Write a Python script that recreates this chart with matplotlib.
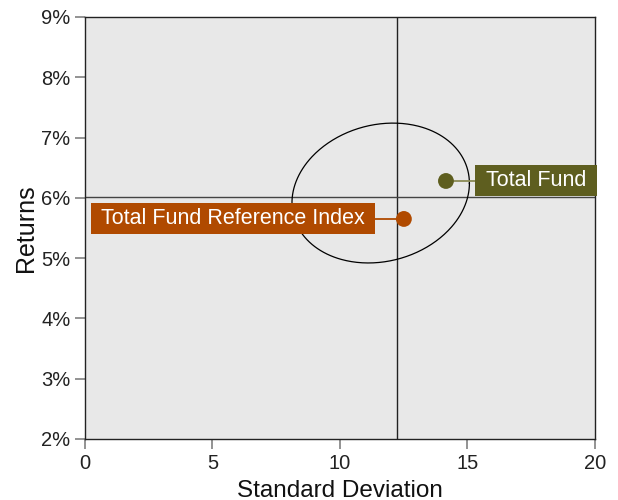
import numpy as np
import matplotlib
matplotlib.use("Agg")
import matplotlib.pyplot as plt
from matplotlib.ticker import FuncFormatter
from matplotlib.patches import Rectangle

plt.rcParams['font.family'] = ['Liberation Sans', 'DejaVu Sans']

# Data
names = ["Total Fund", "Total Fund Reference Index"]
std_dev = [14.16, 12.51]
returns = [6.28, 5.65]
colors = ["#5E5E1F", "#B04A00"]
line_colors = ["#8A8A55", "#B04A00"]
median_std = 12.24
median_ret = 6.02
# ellipse (center, half extents, phase)
ell_cx, ell_cy = 11.6, 6.08
ell_a, ell_b = 3.48, 1.16
ell_delta = np.deg2rad(82)
# label text anchor (x) and alignment
label_x = [15.73, 10.98]
label_ha = ['left', 'right']

fig = plt.figure(figsize=(6.18, 5.0), dpi=100)
ax = fig.add_axes([0.1375, 0.122, 0.825, 0.844])
ax.set_facecolor("#E8E8E8")
ax.set_xlim(0, 20)
ax.set_ylim(2, 9)
ax.set_xticks([0, 5, 10, 15, 20])
ax.set_yticks(np.arange(2, 10, 1))
ax.yaxis.set_major_formatter(FuncFormatter(lambda v, p: f"{v:.0f}%"))
ax.tick_params(axis='both', direction='out', length=7, width=1.2, color="#808080",
               labelsize=14.5, labelcolor="#222222")
for s in ax.spines.values():
    s.set_color("#222222")
    s.set_linewidth(1.0)

ax.axvline(median_std, color="#222222", lw=1.0, zorder=2)
ax.axhline(median_ret, color="#444444", lw=1.0, zorder=2)

t = np.linspace(0, 2 * np.pi, 400)
ax.plot(ell_cx + ell_a * np.cos(t), ell_cy + ell_b * np.cos(t - ell_delta),
        color="black", lw=0.9, zorder=3)

# points
ax.scatter(std_dev, returns, s=130, color=colors, zorder=5, linewidths=0)

# labels
texts = []
for i in range(2):
    txt = ax.text(label_x[i], returns[i], names[i], ha=label_ha[i], va='center',
                  color='white', fontsize=15.5, zorder=7, clip_on=False)
    texts.append(txt)

ax.set_xlabel("Standard Deviation", fontsize=17.5, color="#111111", labelpad=5)
ax.set_ylabel("Returns", fontsize=18, color="#111111", labelpad=2)

fig.canvas.draw()
renderer = fig.canvas.get_renderer()
inv = ax.transData.inverted()
padx, box_h = 10.5, 31.0
for i, txt in enumerate(texts):
    bb = txt.get_window_extent(renderer)
    yc_disp = ax.transData.transform((0, returns[i]))[1]
    x0, y0 = inv.transform((bb.x0 - padx, yc_disp - box_h / 2))
    x1, y1 = inv.transform((bb.x1 + padx, yc_disp + box_h / 2))
    ax.add_patch(Rectangle((x0, y0), x1 - x0, y1 - y0, facecolor=colors[i],
                           edgecolor='none', zorder=6, clip_on=False))
    edge = x0 if label_ha[i] == 'left' else x1
    ax.plot([std_dev[i], edge], [returns[i], returns[i]], color=line_colors[i],
            lw=1.3, zorder=4, clip_on=False)

fig.savefig("out.png", dpi=100)
